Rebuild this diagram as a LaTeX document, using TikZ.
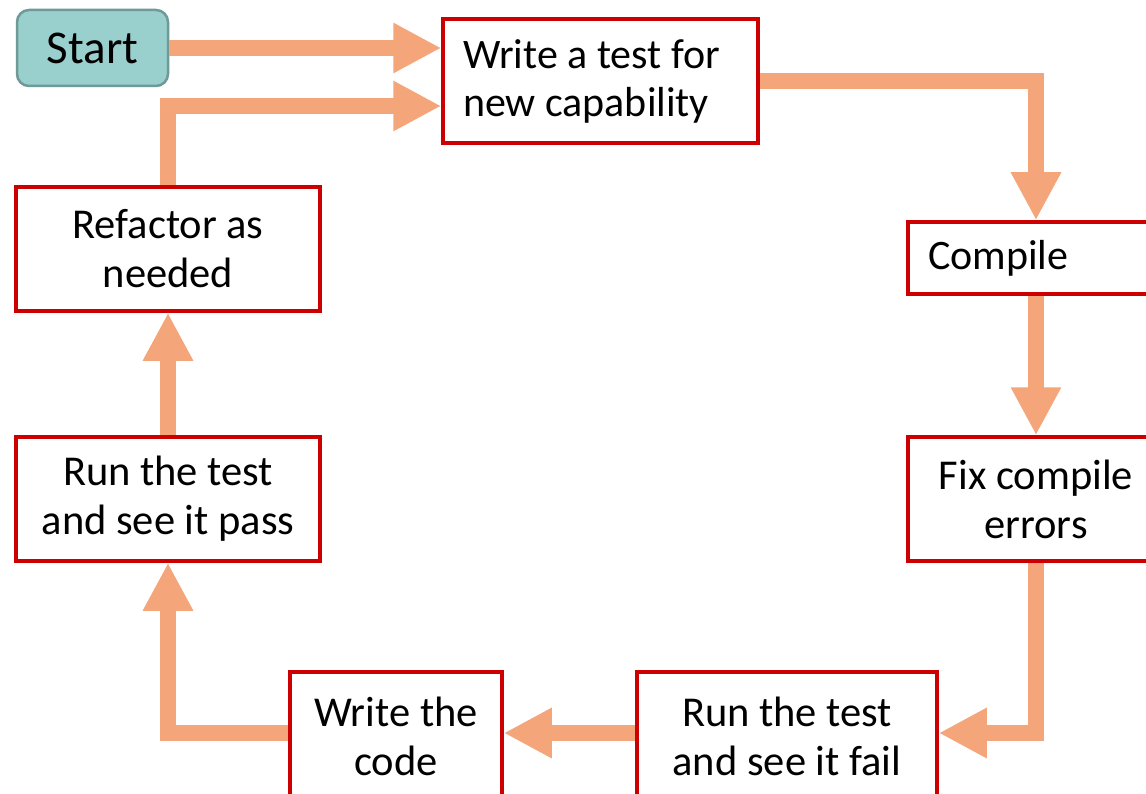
\documentclass[tikz,border=0pt]{standalone}
\usepackage{fontspec}
\setmainfont{Carlito}
\usetikzlibrary{arrows.meta,calc}
\definecolor{boxred}{HTML}{CC0000}
\definecolor{flow}{HTML}{F4A67A}
\definecolor{startfill}{HTML}{99CFCD}
\definecolor{startline}{HTML}{6F9A98}
\begin{document}
\begin{tikzpicture}[x=1pt,y=-1pt,
  stepbox/.style={draw=boxred,line width=3.5pt,fill=white,inner sep=0pt,
    font=\fontsize{42.5}{49}\selectfont,align=center},
  flowarrow/.style={draw=flow,line width=16pt,line join=miter,
    -{Triangle[length=48pt,width=47pt]}}]
\clip (0,0) rectangle (1146,794);
\fill[white] (0,0) rectangle (1146,794);

% process steps
\node[draw=startline,fill=startfill,line width=2.5pt,rounded corners=12pt,
  minimum width=151pt,minimum height=76pt,inner sep=0pt,
  font=\fontsize{47}{56}\selectfont] (start) at (92.5,48) {Start};
\node[stepbox,minimum width=315pt,minimum height=124pt,
  font=\fontsize{42}{48}\selectfont,
  text width=275pt,align=flush left] (write) at (600.5,81)
  {Write a test for\\new capability};
\node[stepbox,minimum width=262pt,minimum height=72pt,
  font=\fontsize{42}{49}\selectfont,
  text width=222pt,align=flush left] (compile) at (1039,258) {Compile};
\node[stepbox,minimum width=256pt,minimum height=124pt] (fix) at (1036,499)
  {Fix compile\\errors};
\node[stepbox,minimum width=300pt,minimum height=128pt] (fail) at (787,736)
  {Run the test\\and see it fail};
\node[stepbox,minimum width=212pt,minimum height=128pt] (code) at (396,736)
  {Write the\\code};
\node[stepbox,minimum width=304pt,minimum height=124pt] (pass) at (168,499)
  {Run the test\\and see it pass};
\node[stepbox,minimum width=304pt,minimum height=124pt] (refactor) at (168,249)
  {Refactor as\\needed};

% guide lines for the arrows
\coordinate (rcol) at (1036,0);
\coordinate (lcol) at (168,0);
\coordinate (toprow) at (0,106);
\coordinate (brow) at (0,733);

% connectors
\draw[flowarrow] (start.east) -- (start.east -| write.west);
\draw[flowarrow] (refactor.north) -- (lcol |- toprow) -- (write.west |- toprow);
\draw[flowarrow] (write.east) -- (rcol |- write.east) -- (rcol |- compile.north);
\draw[flowarrow] (rcol |- compile.south) -- (rcol |- fix.north);
\draw[flowarrow] (rcol |- fix.south) -- (rcol |- brow) -- (fail.east |- brow);
\draw[flowarrow] (fail.west |- brow) -- (code.east |- brow);
\draw[flowarrow] (code.west |- brow) -- (lcol |- brow) -- (pass.south);
\draw[flowarrow] (pass.north) -- (refactor.south);
\end{tikzpicture}
\end{document}
